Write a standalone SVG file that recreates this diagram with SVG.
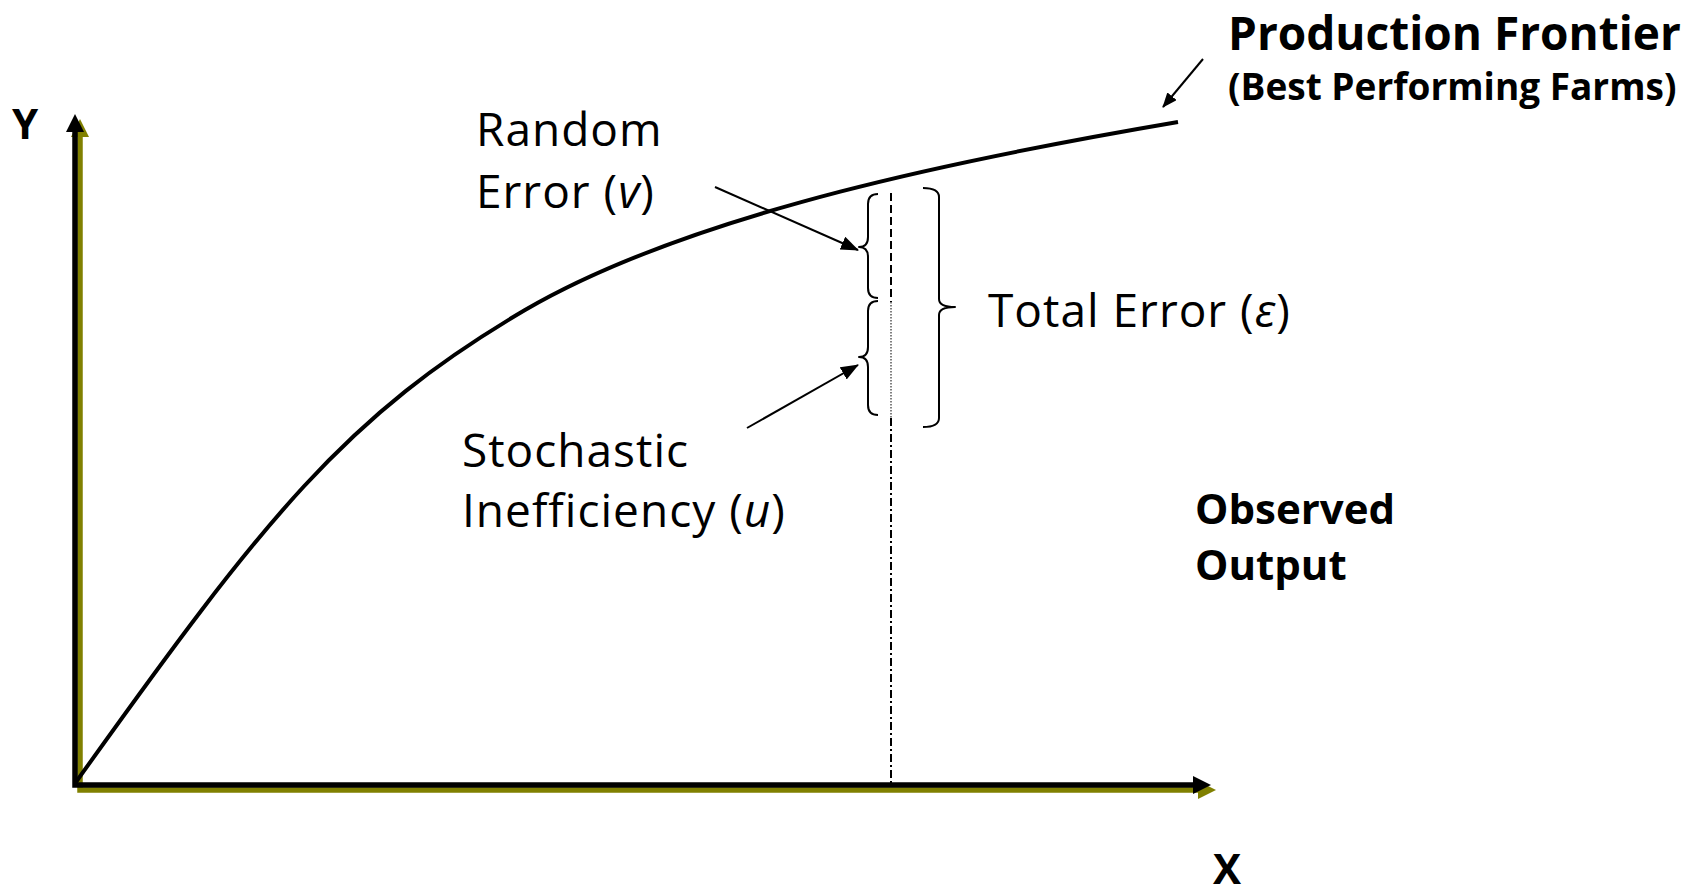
<svg xmlns="http://www.w3.org/2000/svg" width="1698" height="895" viewBox="0 0 1698 895">
<style>
.lbl{font-family:"Open Sans","Liberation Sans",sans-serif;font-size:46px;letter-spacing:1px;fill:#000}
.bold{font-family:"Open Sans","Liberation Sans",sans-serif;font-weight:bold;fill:#000}
.thin{stroke:#000;stroke-width:2;fill:none}
.brace{stroke:#000;stroke-width:2;fill:none;stroke-linejoin:round}
</style>
<defs>
<marker id="axB" viewBox="0 0 18 18" refX="0" refY="9" markerWidth="18" markerHeight="18" markerUnits="userSpaceOnUse" orient="auto-start-reverse"><path d="M0,0 L18,9 L0,18 z" fill="#000"/></marker>
<marker id="axO" viewBox="0 0 18 18" refX="0" refY="9" markerWidth="18" markerHeight="18" markerUnits="userSpaceOnUse" orient="auto-start-reverse"><path d="M0,0 L18,9 L0,18 z" fill="#808000"/></marker>
<marker id="ah" viewBox="0 0 18 14" refX="17" refY="7" markerWidth="18" markerHeight="14" markerUnits="userSpaceOnUse" orient="auto"><path d="M0,0 L18,7 L0,14 z" fill="#000"/></marker>
<marker id="ahs" viewBox="0 0 15 12" refX="14" refY="6" markerWidth="15" markerHeight="12" markerUnits="userSpaceOnUse" orient="auto"><path d="M0,0 L15,6 L0,12 z" fill="#000"/></marker>
</defs>
<rect width="1698" height="895" fill="#fff"/>

<g id="axes">
<path d="M80,137 L80,790 L1198,790" stroke="#808000" stroke-width="5.5" fill="none" marker-start="url(#axO)" marker-end="url(#axO)"/>
<path d="M75,132 L75,785 L1193,785" stroke="#000" stroke-width="5.5" fill="none" marker-start="url(#axB)" marker-end="url(#axB)"/>
</g>

<g id="frontier">
<path d="M76,782 C266,516 345,416 525,310 C695,211 978,156 1178,122" stroke="#000" stroke-width="4" fill="none"/>
</g>

<g id="observation-line">
<line x1="891" y1="193" x2="891" y2="302" stroke="#000" stroke-width="2" stroke-dasharray="8,4"/>
<line x1="891" y1="302" x2="891" y2="418" stroke="#555" stroke-width="1.5" stroke-dasharray="1.5,1.5"/>
<line x1="891" y1="418" x2="891" y2="783" stroke="#000" stroke-width="2" stroke-dasharray="8,3,2,3"/>
</g>

<g id="brace-v">
<path class="brace" d="M878,194 Q868,194 868,204 L868,237 Q868,247 859,247 Q868,247 868,257 L868,288 Q868,298 878,298"/>
</g>
<g id="brace-u">
<path class="brace" d="M878,301 Q868,301 868,311 L868,347 Q868,357 859,357 Q868,357 868,367 L868,405 Q868,415 878,415"/>
</g>
<g id="bracket-total">
<path class="brace" d="M923,188 Q939,188 939,197 L939,299 Q939,307 955,307 Q939,307 939,315 L939,418 Q939,427 923,427"/>
</g>

<g id="connectors">
<line class="thin" x1="715" y1="187" x2="858" y2="250" marker-end="url(#ah)"/>
<line class="thin" x1="747" y1="428" x2="858" y2="365" marker-end="url(#ah)"/>
<line class="thin" x1="1203" y1="59" x2="1163" y2="107" marker-end="url(#ahs)"/>
</g>

<g id="label-y"><text class="bold" x="12" y="139" font-size="42">Y</text></g>
<g id="label-x"><text class="bold" x="1213" y="884" font-size="42">X</text></g>

<g id="label-frontier">
<text class="bold" x="1228" y="50" font-size="46">Production Frontier</text>
<text class="bold" x="1228" y="100" font-size="37">(Best Performing Farms)</text>
</g>

<g id="label-random">
<text class="lbl" x="476" y="146">Random</text>
<text class="lbl" x="476" y="208">Error (<tspan font-style="italic">v</tspan>)</text>
</g>

<g id="label-stochastic">
<text class="lbl" x="462" y="467">Stochastic</text>
<text class="lbl" x="462" y="527">Inefficiency (<tspan font-style="italic">u</tspan>)</text>
</g>

<g id="label-total">
<text class="lbl" x="988" y="327">Total Error (<tspan font-style="italic">ε</tspan>)</text>
</g>

<g id="label-observed">
<text class="bold" x="1195" y="524" font-size="42">Observed</text>
<text class="bold" x="1195" y="580" font-size="42">Output</text>
</g>
</svg>
